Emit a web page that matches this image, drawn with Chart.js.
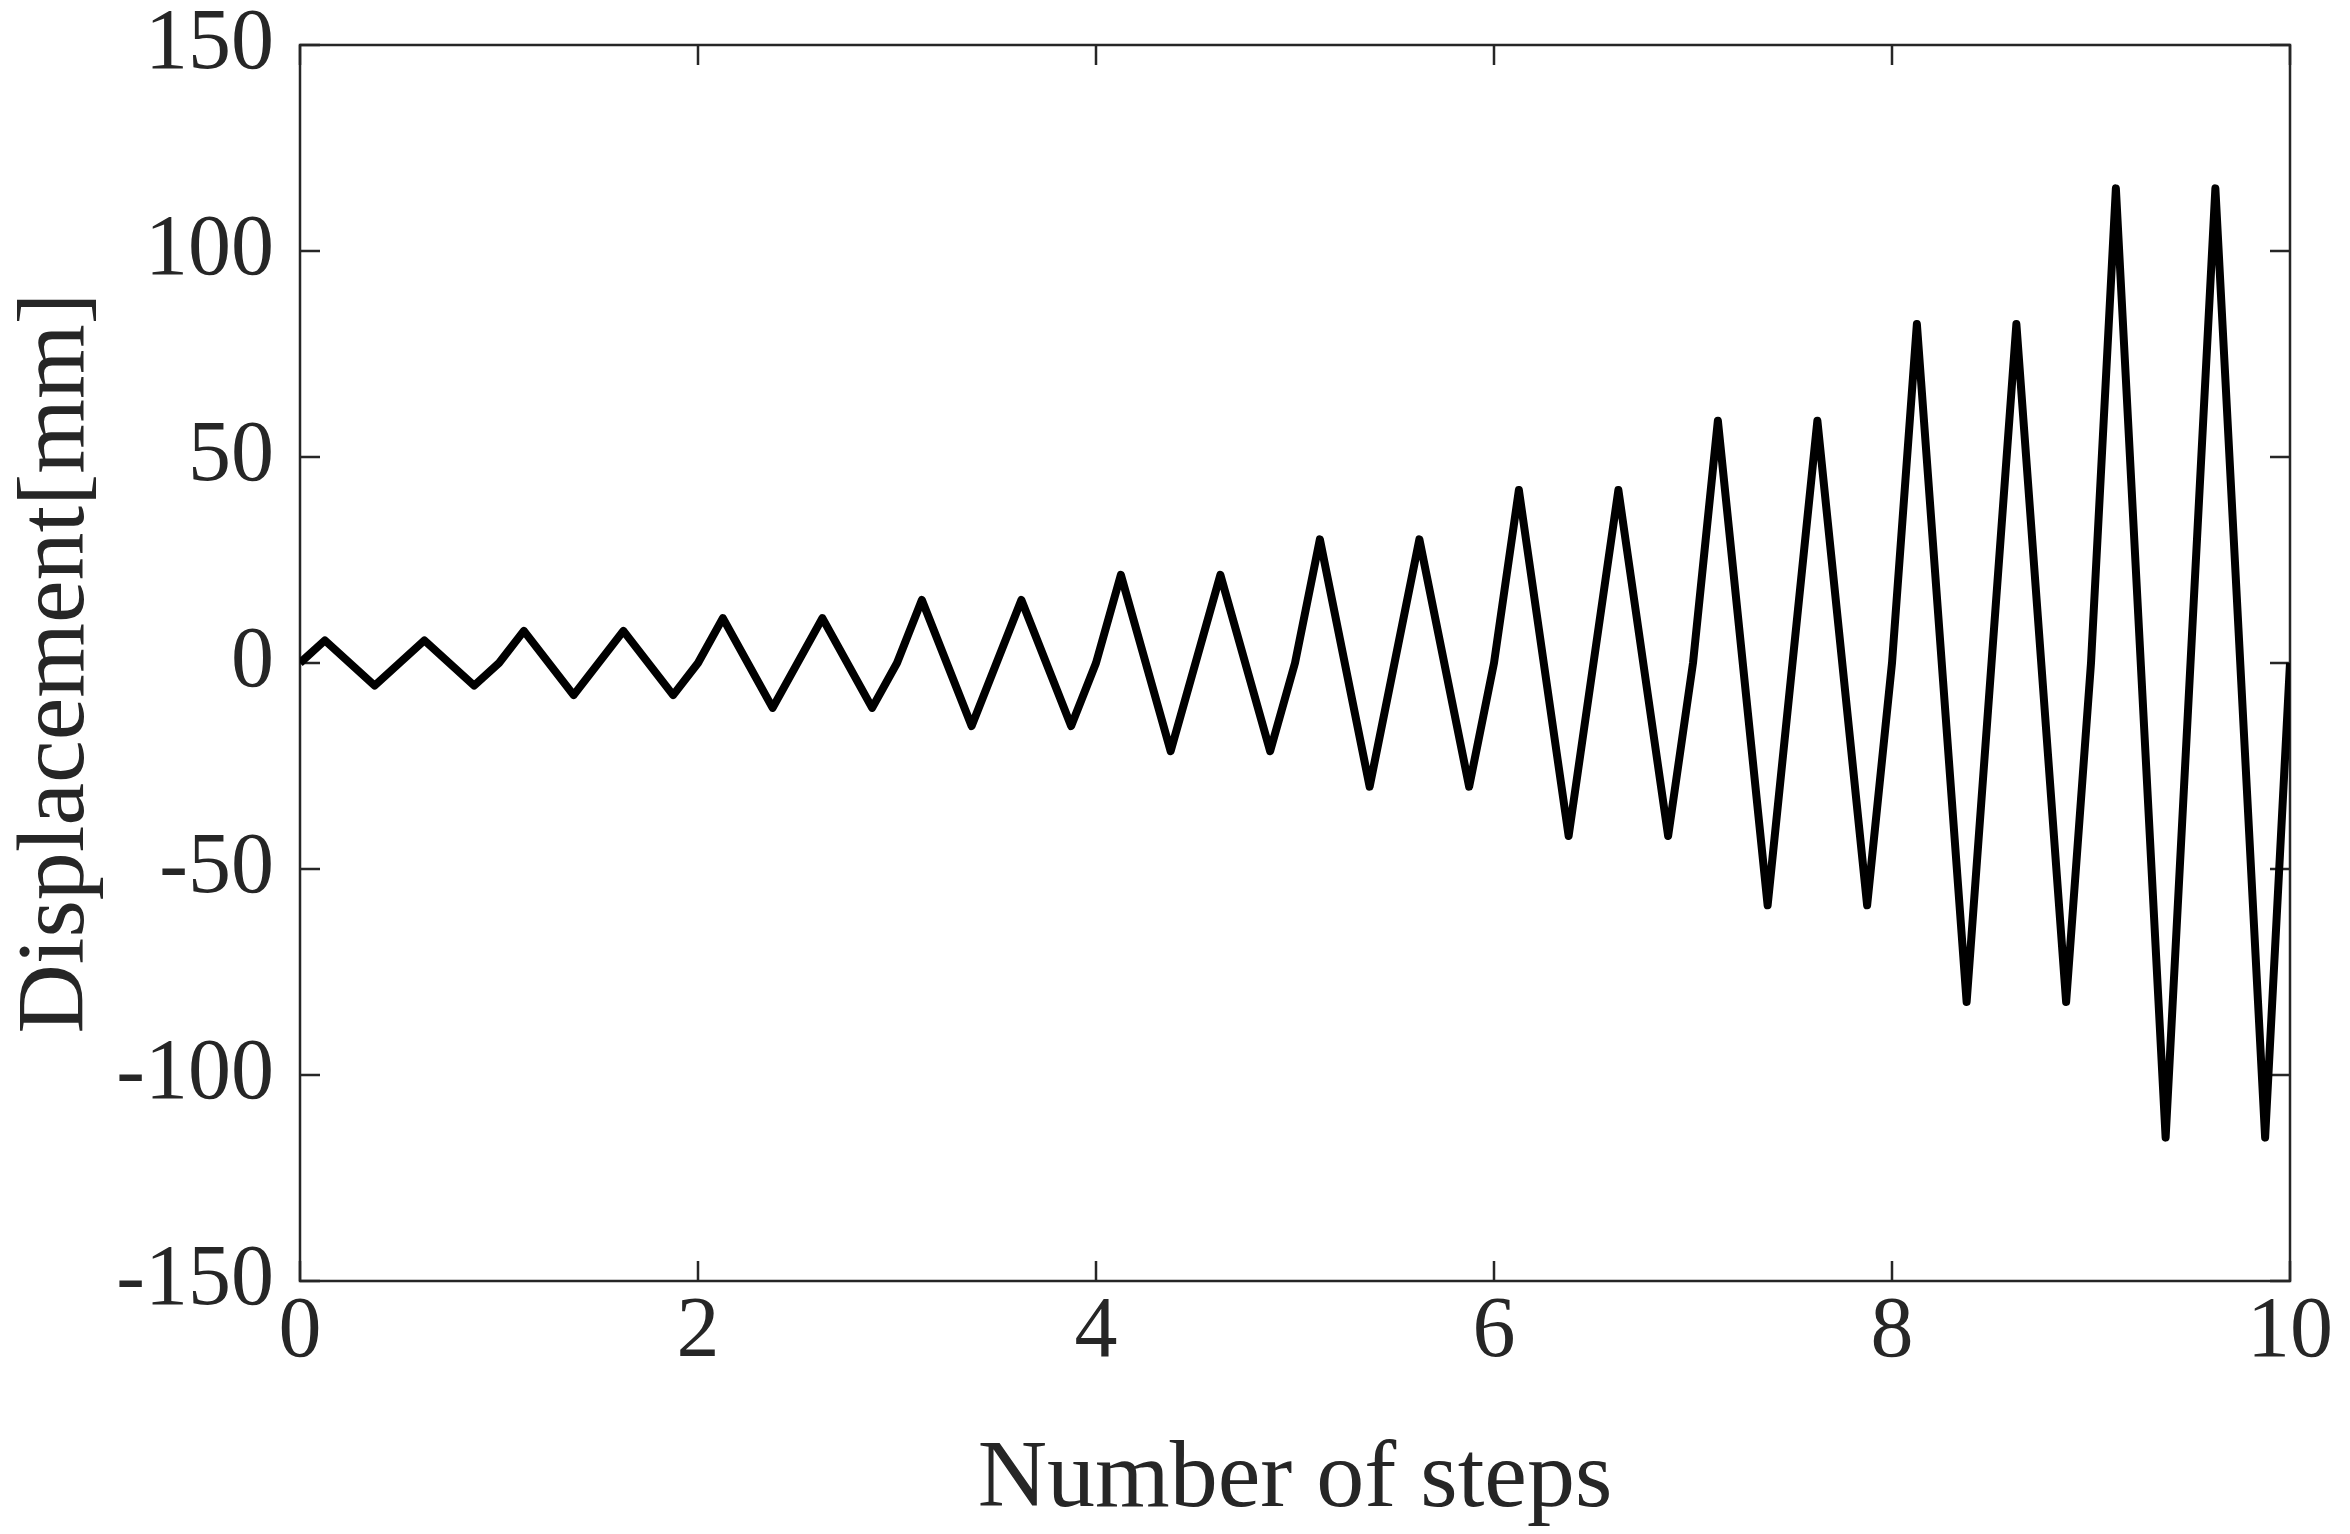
<!DOCTYPE html>
<html>
<head>
<meta charset="utf-8">
<script src="https://cdn.jsdelivr.net/npm/chart.js@4.4.1/dist/chart.umd.min.js"></script>
<style>
  html, body { margin: 0; padding: 0; background: #ffffff; }
  #wrap { width: 2350px; height: 1534px; }
</style>
</head>
<body>
<div id="wrap"><canvas id="c" width="2350" height="1534"></canvas></div>
<script>
// ---- Data ----
const steps = [
  0, 0.125, 0.375, 0.625, 0.875,
  1, 1.125, 1.375, 1.625, 1.875,
  2, 2.125, 2.375, 2.625, 2.875,
  3, 3.125, 3.375, 3.625, 3.875,
  4, 4.125, 4.375, 4.625, 4.875,
  5, 5.125, 5.375, 5.625, 5.875,
  6, 6.125, 6.375, 6.625, 6.875,
  7, 7.125, 7.375, 7.625, 7.875,
  8, 8.125, 8.375, 8.625, 8.875,
  9, 9.125, 9.375, 9.625, 9.875,
  10
];
const displacement = [
  0, 5.5, -5.5, 5.5, -5.5,
  0, 7.8, -7.8, 7.8, -7.8,
  0, 10.9, -10.9, 10.9, -10.9,
  0, 15.3, -15.3, 15.3, -15.3,
  0, 21.4, -21.4, 21.4, -21.4,
  0, 30, -30, 30, -30,
  0, 42, -42, 42, -42,
  0, 58.8, -58.8, 58.8, -58.8,
  0, 82.3, -82.3, 82.3, -82.3,
  0, 115.2, -115.2, 115.2, -115.2,
  0
];
const xTicks = [0, 2, 4, 6, 8, 10];
const yTicks = [-150, -100, -50, 0, 50, 100, 150];
const xTitle = 'Number of steps';
const yTitle = 'Displacement[mm]';

const points = steps.map((s, i) => ({ x: s, y: displacement[i] }));

const AXIS_COLOR = '#262626';
const FONT = '"Liberation Serif", "Times New Roman", serif';

const framePlugin = {
  id: 'frame',
  beforeDatasetsDraw(chart) {
    const { ctx, chartArea: { left, right, top, bottom }, scales: { x, y } } = chart;
    const tl = 20;
    ctx.save();
    ctx.strokeStyle = AXIS_COLOR;
    ctx.lineWidth = 2.5;
    ctx.lineCap = 'butt';
    ctx.beginPath();
    x.ticks.forEach(t => {
      const px = x.getPixelForValue(t.value);
      ctx.moveTo(px, bottom); ctx.lineTo(px, bottom - tl);
      ctx.moveTo(px, top); ctx.lineTo(px, top + tl);
    });
    y.ticks.forEach(t => {
      const py = y.getPixelForValue(t.value);
      ctx.moveTo(left, py); ctx.lineTo(left + tl, py);
      ctx.moveTo(right, py); ctx.lineTo(right - tl, py);
    });
    ctx.stroke();
    ctx.strokeRect(left, top, right - left, bottom - top);
    ctx.restore();
  }
};

new Chart(document.getElementById('c'), {
  type: 'line',
  data: {
    datasets: [{
      data: points,
      borderColor: '#000000',
      borderWidth: 8,
      borderJoinStyle: 'round',
      borderCapStyle: 'butt',
      pointRadius: 0,
      fill: false,
      tension: 0
    }]
  },
  options: {
    responsive: false,
    animation: false,
    devicePixelRatio: 1,
    layout: { padding: { left: 0, right: 60, top: 45, bottom: 0 } },
    plugins: { legend: { display: false }, tooltip: { enabled: false } },
    scales: {
      x: {
        type: 'linear',
        min: 0, max: 10,
        afterBuildTicks: s => { s.ticks = xTicks.map(v => ({ value: v })); },
        afterFit: s => { s.height = 253; s.paddingLeft = 0; s.paddingRight = 0; },
        grid: { display: false, drawTicks: false },
        border: { display: false },
        ticks: {
          color: AXIS_COLOR,
          font: { family: FONT, size: 86, lineHeight: 1.0 },
          padding: 9,
          maxRotation: 0,
          autoSkip: false,
          callback: v => String(v)
        },
        title: {
          display: true,
          text: xTitle,
          color: AXIS_COLOR,
          font: { family: FONT, size: 96, lineHeight: 1.1 },
          padding: { top: 0, bottom: 0 }
        }
      },
      y: {
        type: 'linear',
        min: -150, max: 150,
        afterBuildTicks: s => { s.ticks = yTicks.map(v => ({ value: v })); },
        afterFit: s => { s.width = 300; s.paddingTop = 0; s.paddingBottom = 0; },
        grid: { display: false, drawTicks: false },
        border: { display: false },
        ticks: {
          color: AXIS_COLOR,
          font: { family: FONT, size: 86, lineHeight: 1.0 },
          padding: 26,
          autoSkip: false,
          callback: v => String(v)
        },
        title: {
          display: true,
          text: yTitle,
          color: AXIS_COLOR,
          font: { family: FONT, size: 96 },
          padding: { top: 0, bottom: 0 }
        }
      }
    }
  },
  plugins: [framePlugin]
});
</script>
</body>
</html>
